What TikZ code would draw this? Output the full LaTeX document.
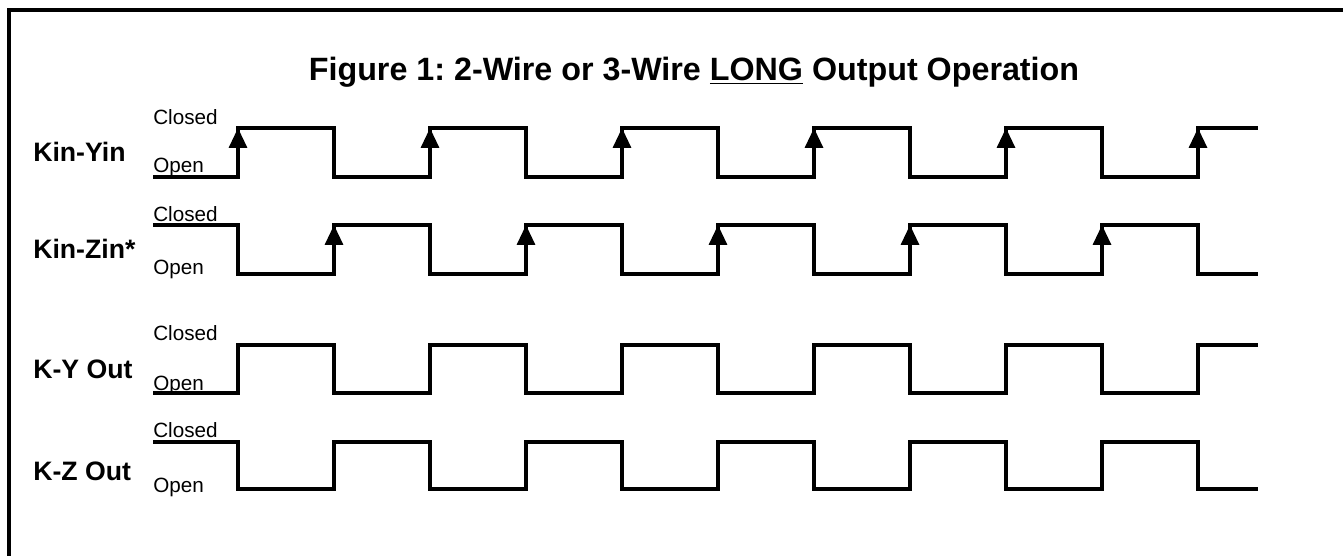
\documentclass[tikz,border=0pt]{standalone}
\usepackage{fontspec}
\setmainfont{Liberation Sans}
\frenchspacing
\usetikzlibrary{arrows.meta}

\begin{document}
\begin{tikzpicture}[
  x=0.75pt, y=-0.75pt,
  frame/.style={line width=2.6pt},
  wave/.style={line width=2.5pt, line join=miter},
  edgearr/.style={-{Triangle[length=15pt, width=13.5pt]}, line width=2.5pt},
  sig/.style={font=\fontsize{20}{24}\selectfont\bfseries, anchor=base west, inner sep=0pt},
  lvl/.style={font=\fontsize{15.5}{18}\selectfont, anchor=base west, inner sep=0pt},
  title/.style={font=\fontsize{24.2}{29}\selectfont\bfseries, anchor=base, inner sep=0pt},
]
\useasboundingbox (0,0) rectangle (1343,556);

% waveform starting open: #1 closed y, #2 open y
\newcommand{\waveopen}[2]{%
  \draw[wave] (153,#2) \foreach \k in {0,...,4} {
      -- (238+192*\k,#2) -- (238+192*\k,#1) -- (334+192*\k,#1) -- (334+192*\k,#2)}
    -- (1198,#2) -- (1198,#1) -- (1258,#1);
}
% waveform starting closed: #1 closed y, #2 open y
\newcommand{\waveclosed}[2]{%
  \draw[wave] (153,#1) \foreach \k in {0,...,4} {
      -- (238+192*\k,#1) -- (238+192*\k,#2) -- (334+192*\k,#2) -- (334+192*\k,#1)}
    -- (1198,#1) -- (1198,#2) -- (1258,#2);
}

% frame, cut at right and bottom
\draw[frame] (1343,10) -- (9,10) -- (9,556);

\node[title] (title) at (694,81) {Figure 1: 2-Wire or 3-Wire \underline{LONG} Output Operation};

% ======================= Kin-Yin =======================
\node[sig] (kyin) at (33,162) {Kin-Yin};
\node[lvl] (kyinc) at (153,125) {Closed};
\node[lvl] (kyino) at (153,173) {Open};
\waveopen{128}{177}
\foreach \k in {0,...,5}
  \draw[edgearr] (238+192*\k,177) -- (238+192*\k,128);

% ======================= Kin-Zin* =======================
\node[sig] (kzin) at (33,258) {Kin-Zin*};
\node[lvl] (kzinc) at (153,222) {Closed};
\node[lvl] (kzino) at (153,275) {Open};
\waveclosed{225}{274}
\foreach \k in {0,...,4}
  \draw[edgearr] (334+192*\k,274) -- (334+192*\k,225);

% ======================= K-Y Out =======================
\node[sig] (kyout) at (33,378) {K-Y Out};
\node[lvl] (kyoutc) at (153,340) {Closed};
\node[lvl] (kyouto) at (153,390) {Open};
\waveopen{345}{393}

% ======================= K-Z Out =======================
\node[sig] (kzout) at (33,480) {K-Z Out};
\node[lvl] (kzoutc) at (153,437) {Closed};
\node[lvl] (kzouto) at (153,492) {Open};
\waveclosed{442}{489}

\end{tikzpicture}
\end{document}
